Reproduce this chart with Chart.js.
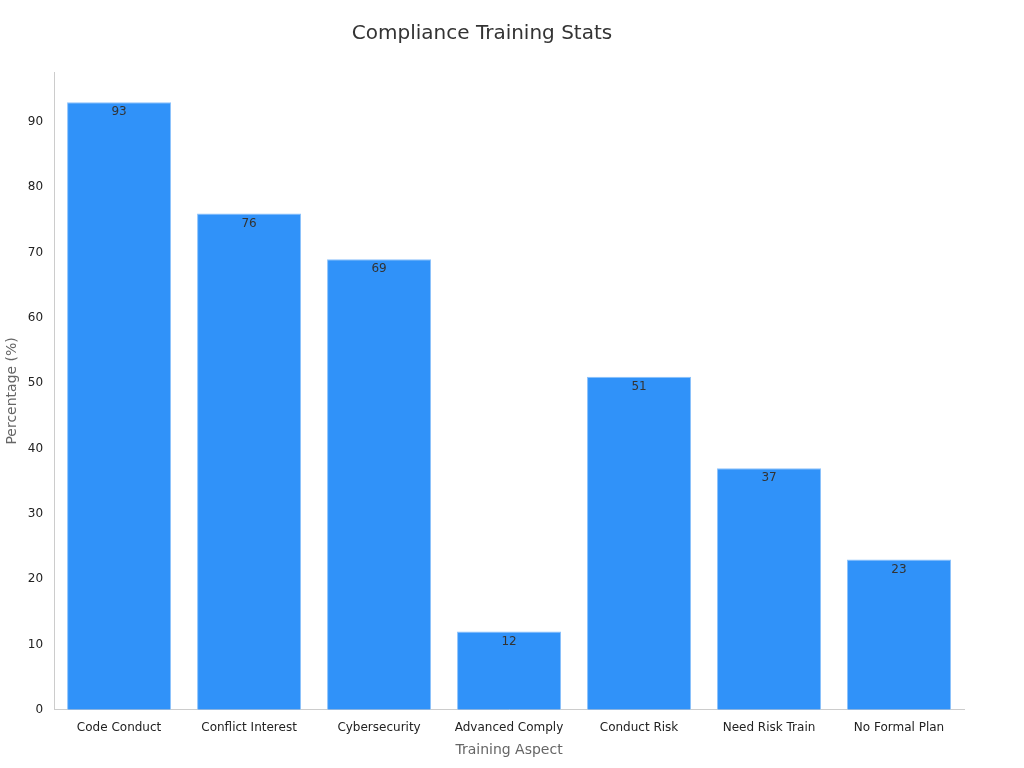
<!DOCTYPE html>
<html><head><meta charset="utf-8">
<script src="https://cdn.jsdelivr.net/npm/chart.js@4/dist/chart.umd.min.js"></script>
<style>html,body{margin:0;background:#fff}#w{width:1024px;height:768px}</style>
</head><body><div id="w"><canvas id="c"></canvas></div>
<script>
const categories=["Code Conduct","Conflict Interest","Cybersecurity","Advanced Comply","Conduct Risk","Need Risk Train","No Formal Plan"];
const values=[93,76,69,12,51,37,23];
const labelPlugin={id:'lbl',afterDatasetsDraw(ch){const ctx=ch.ctx;const m=ch.getDatasetMeta(0);ctx.save();ctx.font='12px "DejaVu Sans"';ctx.fillStyle='#333';ctx.textAlign='center';ctx.textBaseline='top';m.data.forEach((b,i)=>{ctx.fillText(values[i],b.x,b.y+4);});ctx.restore();}};
new Chart(document.getElementById('c'),{type:'bar',data:{labels:categories,datasets:[{data:values,backgroundColor:'#3092F9',borderColor:'#8cc2fb',borderWidth:1,barPercentage:0.8,categoryPercentage:1}]},
options:{responsive:true,maintainAspectRatio:false,animation:false,
layout:{padding:{left:0,right:60,top:10,bottom:5}},
plugins:{legend:{display:false},tooltip:{enabled:false},title:{display:true,text:'Compliance Training Stats',color:'#333',font:{family:'DejaVu Sans',size:20,weight:'normal'},padding:{top:12,bottom:26}}},
scales:{x:{grid:{display:false,drawTicks:true},border:{color:'#ccc'},ticks:{color:'#222',font:{family:'DejaVu Sans',size:12}},title:{display:true,text:'Training Aspect',color:'#666',font:{family:'DejaVu Sans',size:14}}},
y:{min:0,max:97.65,grid:{display:false,drawTicks:true,tickColor:'#999'},border:{color:'#ccc'},ticks:{stepSize:10,color:'#222',font:{family:'DejaVu Sans',size:12},callback:v=>v%10===0?v:''},title:{display:true,text:'Percentage (%)',color:'#666',font:{family:'DejaVu Sans',size:14}}}}},
plugins:[labelPlugin]});
</script></body></html>
